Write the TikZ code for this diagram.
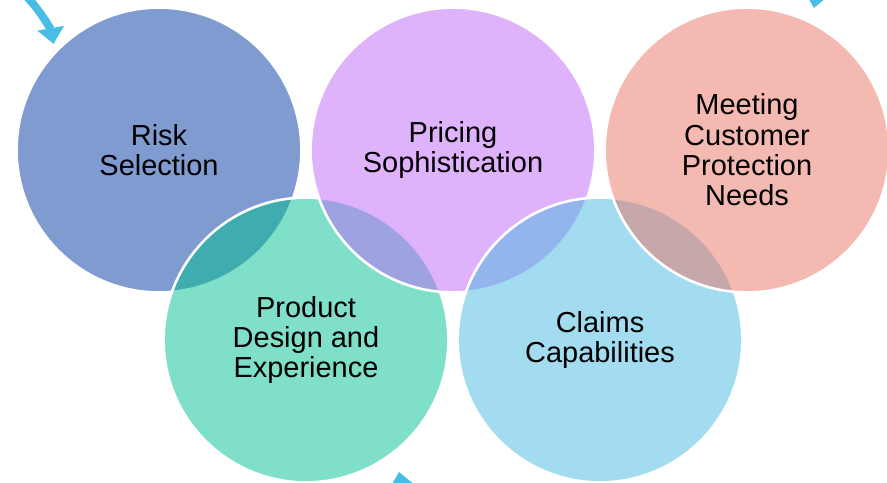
\documentclass[tikz,border=0pt]{standalone}
\usepackage{fontspec}
\setmainfont{Liberation Sans}
\usetikzlibrary{arrows.meta}

\definecolor{riskcol}{RGB}{0,55,159}
\definecolor{designcol}{RGB}{0,192,145}
\definecolor{pricingcol}{RGB}{191,101,249}
\definecolor{claimscol}{RGB}{71,185,225}
\definecolor{meetingcol}{RGB}{233,117,101}
\definecolor{cyclecol}{RGB}{72,190,230}

\tikzset{
  ring/.style={circle, minimum size=7.12cm, inner sep=0, draw=white, line width=.065cm,
    fill opacity=.5, text opacity=1, align=center,
    font=\fontsize{20.6pt}{21.6pt}\selectfont},
  cycle arrow/.style={draw=cyclecol, line width=.2cm,
    -{Triangle[width=.65cm,length=.4cm]}}
}

\begin{document}
\begin{tikzpicture}

\clip (0,0) rectangle (22.175cm,-12.075cm);

%-----------------------------------------------------
\node (risk) at (3.975cm,-3.75cm) [ring, fill=riskcol] {Risk\\Selection};
\node (design) at (7.65cm,-8.5cm) [ring, fill=designcol] {Product\\Design and\\Experience};
\node (pricing) at (11.325cm,-3.75cm) [ring, fill=pricingcol] {Pricing\\Sophistication};
\node (claims) at (15cm,-8.5cm) [ring, fill=claimscol] {Claims\\Capabilities};
\node (meeting) at (18.675cm,-3.75cm) [ring, fill=meetingcol] {Meeting\\Customer\\Protection\\Needs};

%-----------------------------------------------------
\coordinate (cycA) at (.65cm,.1cm);
\coordinate (cycB) at (1.3375cm,-1.1cm);
\draw [cycle arrow] (cycA) .. controls (1cm,-.25cm) and (1.275cm,-.75cm) .. (cycB);

\coordinate (cycC) at (21cm,1cm);
\coordinate (cycD) at (20.35cm,-.2cm);
\draw [cycle arrow] (cycC) .. controls (20.6cm,.6cm) and (20.42cm,.2cm) .. (cycD);

\coordinate (cycE) at (10.3cm,-12.9cm);
\coordinate (cycF) at (9.975cm,-11.8cm);
\draw [cycle arrow] (cycE) .. controls (10.15cm,-12.5cm) and (10.03cm,-12.1cm) .. (cycF);

\end{tikzpicture}
\end{document}
